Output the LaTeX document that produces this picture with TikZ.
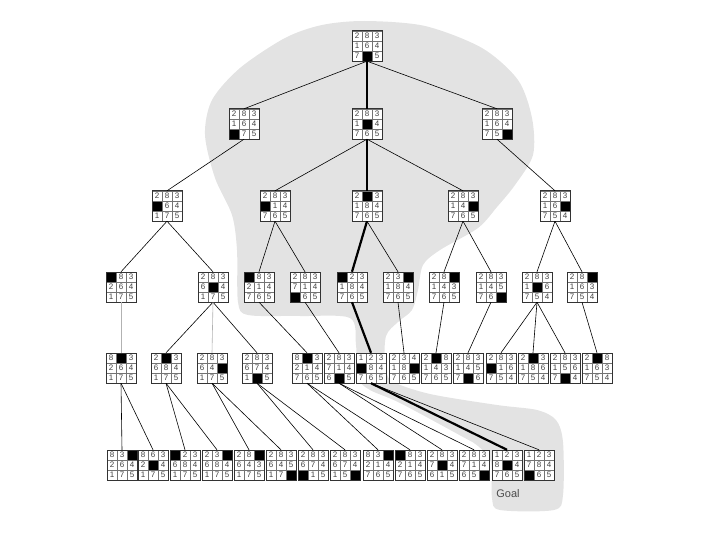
\documentclass[tikz,border=0pt]{standalone}
\usepackage{fontspec}
\setmainfont{Liberation Sans}
\usepackage{tikz}
\usetikzlibrary{calc}

\tikzset{
  board/.style={minimum size=30pt, inner sep=0pt},
  cell/.style={draw=black!55, line width=0.4pt, fill=white, minimum size=10pt,
    inner sep=0pt, font=\fontsize{8}{8}\selectfont, text=black!75},
  hole/.style={cell, fill=black},
  frame/.style={draw=black!80, line width=0.6pt},
  move/.style={line width=0.6pt},
  faint/.style={move, draw=black!30},
  solution/.style={line width=2.2pt},
  blob/.style={fill=black!11},
}

% one 8-puzzle state: name, position, the nine tiles row by row (0 = blank)
\newcommand{\puzzle}[3]{%
  \node[board] (#1) at (#2) {};
  \foreach \t [count=\k from 0] in {#3}{%
    \pgfmathtruncatemacro{\cc}{mod(\k,3)}%
    \pgfmathtruncatemacro{\rr}{div(\k,3)}%
    \ifnum\t=0
      \node[hole] (#1-\k) at ($(#1.center)+({(\cc-1)*10pt},{(1-\rr)*10pt})$) {};
    \else
      \node[cell] (#1-\k) at ($(#1.center)+({(\cc-1)*10pt},{(1-\rr)*10pt})$) {\t};
    \fi
  }%
  \draw[frame] (#1.south west) rectangle (#1.north east);
}

\begin{document}
\begin{tikzpicture}[x=1pt, y=-1pt]
  \useasboundingbox (0,0) rectangle (720,540);

  % shaded part of the tree that was searched
  \fill[blob] plot[smooth cycle, tension=0.5] coordinates {
    (365,21) (425,26) (482,48) (518,80) (532,118) (533,155) (515,185)
    (497,207) (478,228) (440,250) (423,265) (418,290) (412,310) (398,322)
    (386,336) (385,365) (392,381) (430,394) (497,405) (537,410) (556,420)
    (563,442) (563,495) (554,510) (500,510) (492,498) (491,462) (478,446)
    (463,437) (400,403) (370,390) (358,378) (356,345) (350,318) (300,316)
    (248,315) (238,302) (237,250) (232,215) (215,178) (205,135) (212,100)
    (240,68) (285,38) (322,25)};

  % depth 0 and 1
  \puzzle{n0}{367,46}{2,8,3,1,6,4,7,0,5}
  \puzzle{n1a}{244,124}{2,8,3,1,6,4,0,7,5}
  \puzzle{n1b}{367,124}{2,8,3,1,0,4,7,6,5}
  \puzzle{n1c}{497,124}{2,8,3,1,6,4,7,5,0}

  % depth 2
  \puzzle{n2a}{167,206}{2,8,3,0,6,4,1,7,5}
  \puzzle{n2b}{275,206}{2,8,3,0,1,4,7,6,5}
  \puzzle{n2c}{367,206}{2,0,3,1,8,4,7,6,5}
  \puzzle{n2d}{463,206}{2,8,3,1,4,0,7,6,5}
  \puzzle{n2e}{555,206}{2,8,3,1,6,0,7,5,4}

  % depth 3
  \puzzle{n3a}{121,287}{0,8,3,2,6,4,1,7,5}
  \puzzle{n3b}{213,287}{2,8,3,6,0,4,1,7,5}
  \puzzle{n3c}{259,287}{0,8,3,2,1,4,7,6,5}
  \puzzle{n3d}{305,287}{2,8,3,7,1,4,0,6,5}
  \puzzle{n3e}{352,287}{0,2,3,1,8,4,7,6,5}
  \puzzle{n3f}{398,287}{2,3,0,1,8,4,7,6,5}
  \puzzle{n3g}{444,287}{2,8,0,1,4,3,7,6,5}
  \puzzle{n3h}{491,287}{2,8,3,1,4,5,7,6,0}
  \puzzle{n3i}{537,287}{2,8,3,1,0,6,7,5,4}
  \puzzle{n3j}{582,287}{2,8,0,1,6,3,7,5,4}

  % depth 4
  \puzzle{n4a}{121,368}{8,0,3,2,6,4,1,7,5}
  \puzzle{n4b}{166,368}{2,0,3,6,8,4,1,7,5}
  \puzzle{n4c}{212,368}{2,8,3,6,4,0,1,7,5}
  \puzzle{n4d}{257,368}{2,8,3,6,7,4,1,0,5}
  \puzzle{n4e}{307,368}{8,0,3,2,1,4,7,6,5}
  \puzzle{n4f}{339,368}{2,8,3,7,1,4,6,0,5}
  \puzzle{n4g}{371,368}{1,2,3,0,8,4,7,6,5}
  \puzzle{n4h}{404,368}{2,3,4,1,8,0,7,6,5}
  \puzzle{n4i}{436,368}{2,0,8,1,4,3,7,6,5}
  \puzzle{n4j}{468,368}{2,8,3,1,4,5,7,0,6}
  \puzzle{n4k}{501,368}{2,8,3,0,1,6,7,5,4}
  \puzzle{n4l}{533,368}{2,0,3,1,8,6,7,5,4}
  \puzzle{n4m}{565,368}{2,8,3,1,5,6,7,0,4}
  \puzzle{n4n}{597,368}{2,0,8,1,6,3,7,5,4}

  % depth 5
  \puzzle{n5a}{122,465}{8,3,0,2,6,4,1,7,5}
  \puzzle{n5b}{153,465}{8,6,3,2,0,4,1,7,5}
  \puzzle{n5c}{185,465}{0,2,3,6,8,4,1,7,5}
  \puzzle{n5d}{217,465}{2,3,0,6,8,4,1,7,5}
  \puzzle{n5e}{249,465}{2,8,0,6,4,3,1,7,5}
  \puzzle{n5f}{281,465}{2,8,3,6,4,5,1,7,0}
  \puzzle{n5g}{313,465}{2,8,3,6,7,4,0,1,5}
  \puzzle{n5h}{345,465}{2,8,3,6,7,4,1,5,0}
  \puzzle{n5i}{378,465}{8,3,0,2,1,4,7,6,5}
  \puzzle{n5j}{410,465}{0,8,3,2,1,4,7,6,5}
  \puzzle{n5k}{442,465}{2,8,3,7,0,4,6,1,5}
  \puzzle{n5l}{474,465}{2,8,3,7,1,4,6,5,0}
  \puzzle{n5m}{507,465}{1,2,3,8,0,4,7,6,5}
  \puzzle{n5n}{539,465}{1,2,3,7,8,4,0,6,5}

  \node[font=\fontsize{11}{11}\selectfont, text=black!70] (goal) at (508,494) {Goal};

  % moves
  \foreach \a/\b in {n0/n1a, n0/n1c, n1a/n2a, n1b/n2b, n1b/n2d, n1c/n2e,
      n2a/n3a, n2a/n3b, n2b/n3c, n2b/n3d, n2c/n3f, n2d/n3g, n2d/n3h,
      n2e/n3i, n2e/n3j, n3b/n4b, n3b/n4d, n3c/n4e, n3d/n4f, n3f/n4h,
      n3g/n4i, n3h/n4j, n3i/n4k, n3i/n4l, n3i/n4m, n3j/n4n,
      n4a/n5a, n4a/n5b, n4b/n5c, n4b/n5d, n4c/n5e, n4c/n5f, n4d/n5g,
      n4d/n5h, n4e/n5i, n4e/n5j, n4f/n5k, n4f/n5l, n4g/n5n}
    \draw[move] (\a.south) -- (\b.north);
  \foreach \a/\b in {n3a/n4a, n3b/n4c}
    \draw[faint] (\a.south) -- (\b.north);

  % path to the goal
  \foreach \a/\b in {n0/n1b, n1b/n2c, n2c/n3e, n3e/n4g, n4g/n5m}
    \draw[solution] (\a.south) -- (\b.north);
\end{tikzpicture}
\end{document}
